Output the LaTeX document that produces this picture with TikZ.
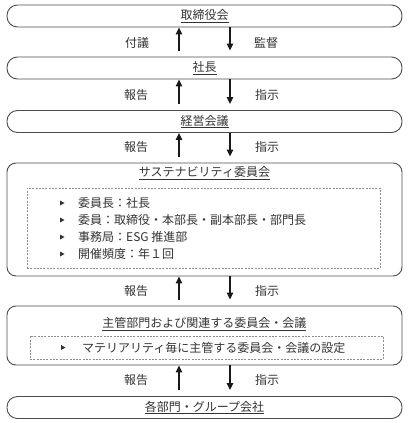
\documentclass[tikz,border=0pt]{standalone}
\usepackage{fontspec}
\setmainfont{Noto Sans CJK JP}
\usetikzlibrary{arrows.meta}
\begin{document}
\begin{tikzpicture}[x=1bp,y=-1bp,
  every node/.style={font=\fontsize{12bp}{14bp}\selectfont, text=black!80},
  pill/.style={draw=black!70, line width=0.9bp, rounded corners=10.5bp, minimum width=395bp, minimum height=22bp, inner sep=0pt},
  bigbox/.style={draw=black!70, line width=0.9bp, rounded corners=9bp, minimum width=395bp, inner sep=0pt},
  dbox/.style={draw=black!45, dash pattern=on 2bp off 1.3bp, line width=0.8bp, inner sep=0pt},
  arr/.style={line width=1.3bp, -{Triangle[length=7bp,width=6.5bp]}, black!90},
  lbl/.style={inner sep=0pt},
  item/.style={anchor=west, inner sep=0pt},
  bul/.style={fill=black!80}
]
\useasboundingbox (0,0) rectangle (408,423);

% boxes
\node[pill] (b1) at (204.5,16) {};
\node[pill] (b2) at (204.5,68) {};
\node[pill] (b3) at (204.5,121.5) {};
\node[bigbox, minimum height=113bp] (b4) at (204.5,219.5) {};
\node[bigbox, minimum height=59bp] (b5) at (204.5,335.5) {};
\node[pill] (b6) at (204.5,407.5) {};

% titles
\node[lbl] (t1) at (204.5,16) {\underline{取締役会}};
\node[lbl] (t2) at (204.5,68) {\underline{社長}};
\node[lbl] (t3) at (204.5,121.5) {\underline{経営会議}};
\node[lbl] (t4) at (204.5,173) {\underline{サステナビリティ委員会}};
\node[lbl] (t5) at (204.5,324) {\underline{主管部門および関連する委員会・会議}};
\node[lbl] (t6) at (204.5,407.5) {\underline{各部門・グループ会社}};

% dashed inner boxes
\node[dbox, minimum width=353bp, minimum height=80bp] (d4) at (203.5,228) {};
\node[dbox, minimum width=353bp, minimum height=23bp] (d5) at (206.5,347.5) {};

% list items
\node[item] (i1) at (78,203) {委員長：社長};
\node[item] (i2) at (78,220) {委員：取締役・本部長・副本部長・部門長};
\node[item] (i3) at (78,237) {事務局：ESG 推進部};
\node[item] (i4) at (78,254) {開催頻度：年１回};
\node[item] (i5) at (82,347.5) {マテリアリティ毎に主管する委員会・会議の設定};
\foreach \yy in {203,220,237,254} {
  \fill[bul] (60,\yy-2.5) -- (64.5,\yy) -- (60,\yy+2.5) -- cycle;
}
\fill[bul] (61,345) -- (65.5,347.5) -- (61,350) -- cycle;

% arrow x positions
\coordinate (ua) at (179,0);
\coordinate (da) at (230,0);

\foreach \a/\b in {b1/b2,b2/b3,b3/b4,b4/b5,b5/b6} {
  \draw[arr, shorten <=6bp] (ua|-\b.north) -- (ua|-\a.south);
  \draw[arr, shorten >=6bp] (da|-\a.south) -- (da|-\b.north);
}

% arrow labels
\node[lbl] (l1a) at (137,43) {付議};
\node[lbl] (l1b) at (266,43) {監督};
\node[lbl] (l2a) at (136,95) {報告};
\node[lbl] (l2b) at (267,95) {指示};
\node[lbl] (l3a) at (136,147) {報告};
\node[lbl] (l3b) at (267,147) {指示};
\node[lbl] (l4a) at (136,291) {報告};
\node[lbl] (l4b) at (267,291) {指示};
\node[lbl] (l5a) at (136,380) {報告};
\node[lbl] (l5b) at (267,380) {指示};
\end{tikzpicture}
\end{document}
